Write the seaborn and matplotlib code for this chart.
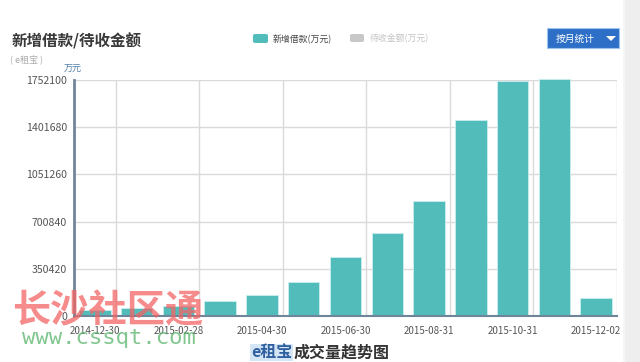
import matplotlib
matplotlib.use('Agg')
import matplotlib.pyplot as plt
import seaborn as sns
import pandas as pd
from matplotlib.patches import Rectangle, Polygon, FancyBboxPatch

# ---- data ----
months = ['2014-12', '2015-01', '2015-02', '2015-03', '2015-04', '2015-05', '2015-06',
          '2015-07', '2015-08', '2015-09', '2015-10', '2015-11', '2015-12']
new_loans = [45000, 58000, 75000, 113000, 155000, 255000, 440000,
             617000, 856000, 1457000, 1748000, 1758000, 136000]
y_ticks = [0, 350420, 700840, 1051260, 1401680, 1752100]
x_tick_labels = ['2014-12-30', '2015-02-28', '2015-04-30', '2015-06-30',
                 '2015-08-31', '2015-10-31', '2015-12-02']

W, H = 640, 362
sns.set_theme(style='white')
plt.rcParams['font.family'] = ['Noto Sans CJK SC', 'DejaVu Sans']

fig = plt.figure(figsize=(W / 100, H / 100), dpi=100)
fig.patch.set_facecolor('white')

def fx(px):
    return px / W

def fy(py):
    return 1 - py / H

left, right, top, bottom = 74, 617, 80, 316
ax = fig.add_axes([fx(left), fy(bottom), (right - left) / W, (bottom - top) / H])

df = pd.DataFrame({'month': months, 'loan': new_loans})
sns.barplot(data=df, x='month', y='loan', color='#52bcbb', saturation=1,
            width=0.755, ax=ax, zorder=3)
for p in ax.patches:
    p.set_clip_on(False)
    p.set_edgecolor('#c8eeee')
    p.set_linewidth(0.6)

ax.set_xlim(-0.5, len(months) - 0.5)
ax.set_ylim(0, y_ticks[-1])
ax.set_xlabel('')
ax.set_ylabel('')

axis_col = '#6f8599'
ax.set_yticks(y_ticks)
ax.set_yticklabels([str(v) for v in y_ticks])
ax.tick_params(axis='y', length=0, pad=5, labelsize=7.6, labelcolor='#555555')

major_x = list(range(0, len(months), 2))
ax.set_xticks(major_x)
ax.set_xticklabels(x_tick_labels)
ax.set_xticks([i + 0.5 for i in range(0, len(months), 2)], minor=True)
ax.tick_params(axis='x', which='major', length=0, pad=7, labelsize=7, labelcolor='#555555')
ax.tick_params(axis='x', which='minor', length=5, width=1, color=axis_col, direction='out')

ax.grid(True, axis='y', which='major', color='#dadada', lw=1, zorder=0)
ax.grid(True, axis='x', which='minor', color='#dadada', lw=1, zorder=0)
ax.grid(False, axis='x', which='major')
ax.set_axisbelow(True)

for s in ['top', 'right']:
    ax.spines[s].set_visible(False)
ax.spines['left'].set_color(axis_col)
ax.spines['left'].set_linewidth(2)
ax.spines['bottom'].set_color(axis_col)
ax.spines['bottom'].set_linewidth(1.5)
ax.spines['left'].set_zorder(5)
ax.spines['bottom'].set_zorder(5)

# ---- texts ----
fig.text(fx(12), fy(41), '新增借款/待收金额', fontsize=11.2, fontweight='bold',
         color='#3a3a3a', va='center', ha='left')
fig.text(fx(10), fy(60), '( e租宝 )', fontsize=6.5, color='#aaaaaa', va='center', ha='left')
fig.text(fx(73), fy(69.5), '万元', fontsize=6.5, color='#4f7eaa', va='center', ha='center')

# legend
fig.patches.append(FancyBboxPatch((fx(253), fy(43)), fx(15), 9 / H,
                                  boxstyle='round,pad=0,rounding_size=0.004',
                                  transform=fig.transFigure, facecolor='#52bcbb',
                                  edgecolor='none'))
fig.text(fx(273), fy(39), '新增借款(万元)', fontsize=6.4, color='#444444', va='center', ha='left')
fig.patches.append(FancyBboxPatch((fx(350), fy(42)), fx(14), 8 / H,
                                  boxstyle='round,pad=0,rounding_size=0.004',
                                  transform=fig.transFigure, facecolor='#c8c8c8',
                                  edgecolor='none'))
fig.text(fx(370), fy(38.5), '待收金额(万元)', fontsize=6.4, color='#c4c4c4', va='center', ha='left')

# button
fig.patches.append(Rectangle((fx(547), fy(48)), fx(72), 20 / H, transform=fig.transFigure,
                             facecolor='#2d6fc6', edgecolor='#9cc3ee', lw=0.8))
fig.text(fx(575), fy(38.5), '按月统计', fontsize=7, color='white', va='center', ha='center')
fig.patches.append(Polygon([(fx(606), fy(36)), (fx(616), fy(36)), (fx(611), fy(41))],
                           closed=True, transform=fig.transFigure, facecolor='white',
                           edgecolor='none'))

# right grey strip
fig.patches.append(Rectangle((fx(623), 0), fx(17), 1, transform=fig.transFigure,
                             facecolor='#eeeeee', edgecolor='none'))
fig.patches.append(Rectangle((fx(623), 0), fx(2), 1, transform=fig.transFigure,
                             facecolor='#f6f6f6', edgecolor='none'))

# bottom caption
fig.canvas.draw()
r = fig.canvas.get_renderer()
t1 = fig.text(fx(251), fy(352.5), 'e租宝', fontsize=11.5, fontweight='bold', color='#2f5f9e',
              va='center', ha='left',
              bbox=dict(facecolor='#d4e5f6', edgecolor='none', pad=0.5))
bb = t1.get_window_extent(renderer=r)
fig.text(bb.x1 / W + 0.002, fy(352.5), '成交量趋势图', fontsize=11.5, fontweight='bold',
         color='#333333', va='center', ha='left')

# watermark
fig.text(fx(12), fy(311), '长沙社区通', fontsize=27.5, fontweight='heavy', color='#f26464',
         alpha=0.75, va='center', ha='left')
fig.text(fx(22), fy(338), 'www.cssqt.com', fontsize=16, color='#62b873', alpha=0.8,
         va='center', ha='left', family='DejaVu Sans Mono')

fig.savefig('out.png', dpi=100)
